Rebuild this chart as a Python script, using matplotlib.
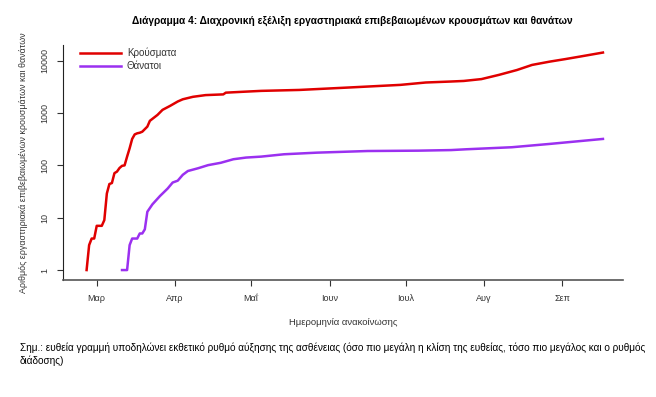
import numpy as np
import pandas as pd
import matplotlib
matplotlib.use("Agg")
import matplotlib.pyplot as plt

plt.rcParams['font.family'] = ['Liberation Sans', 'DejaVu Sans']

# cumulative confirmed cases
case_dates = ['2020-02-26', '2020-02-27', '2020-02-28', '2020-02-29', '2020-03-01',
              '2020-03-03', '2020-03-04', '2020-03-05', '2020-03-06', '2020-03-07',
              '2020-03-08', '2020-03-09', '2020-03-10', '2020-03-11', '2020-03-12',
              '2020-03-13', '2020-03-14', '2020-03-15', '2020-03-16', '2020-03-17',
              '2020-03-18', '2020-03-19', '2020-03-21', '2020-03-22', '2020-03-25',
              '2020-03-27', '2020-03-30', '2020-04-02', '2020-04-04', '2020-04-08',
              '2020-04-13', '2020-04-20', '2020-04-21', '2020-04-28', '2020-05-05',
              '2020-05-20', '2020-06-09', '2020-06-29', '2020-07-09', '2020-07-19',
              '2020-07-24', '2020-07-31', '2020-08-07', '2020-08-14', '2020-08-20',
              '2020-08-27', '2020-09-02', '2020-09-08', '2020-09-17']
cases = [1, 3, 4, 4, 7,
         7, 9, 29, 44, 46,
         71, 76, 89, 98, 100,
         147, 212, 320, 390, 410,
         420, 440, 550, 710, 920,
         1150, 1370, 1660, 1830, 2040,
         2200, 2270, 2450, 2550, 2650,
         2760, 3080, 3450, 3830, 4000,
         4100, 4450, 5370, 6630, 8300,
         9600, 10700, 12000, 14300]

# cumulative deaths
death_dates = ['2020-03-11', '2020-03-13', '2020-03-14', '2020-03-15', '2020-03-17',
               '2020-03-18', '2020-03-19', '2020-03-20', '2020-03-21', '2020-03-23',
               '2020-03-26', '2020-03-29', '2020-03-31', '2020-04-02', '2020-04-04',
               '2020-04-06', '2020-04-10', '2020-04-14', '2020-04-19', '2020-04-24',
               '2020-04-29', '2020-05-05', '2020-05-14', '2020-05-27', '2020-06-16',
               '2020-07-06', '2020-07-19', '2020-07-25', '2020-08-12', '2020-08-27',
               '2020-09-17']
deaths = [1, 1, 3, 4, 4,
          5, 5, 6, 13, 18,
          26, 36, 47, 51, 66,
          78, 88, 101, 112, 131,
          141, 147, 163, 175, 188,
          191, 196, 203, 222, 257,
          320]

month_ticks = ['2020-03-01', '2020-04-01', '2020-05-01', '2020-06-01',
               '2020-07-01', '2020-08-01', '2020-09-01']
month_labels = ['Μαρ', 'Απρ', 'Μαΐ', 'Ιουν', 'Ιουλ', 'Αυγ', 'Σεπ']
y_ticks = [1, 10, 100, 1000, 10000]

fig = plt.figure(figsize=(6.56, 3.97), dpi=100)
ax = fig.add_axes([0.096, 0.2947, 0.854, 0.592])

ax.plot(pd.to_datetime(case_dates), cases, color='#e00000', lw=1.8, label='Κρούσματα')
ax.plot(pd.to_datetime(death_dates), deaths, color='#9b30f0', lw=1.8, label='Θάνατοι')

ax.set_yscale('log')
ax.set_ylim(10 ** -0.19, 10 ** 4.30)
ax.set_xlim(pd.Timestamp('2020-02-16 16:00'), pd.Timestamp('2020-09-25'))

ax.set_yticks(y_ticks)
ax.set_yticklabels([str(v) for v in y_ticks], rotation=90, va='center', fontsize=6.5, color='#333333')
ax.yaxis.set_minor_locator(matplotlib.ticker.NullLocator())
ax.set_xticks(pd.to_datetime(month_ticks))
ax.set_xticklabels(month_labels, fontsize=6.5, color='#333333')
ax.tick_params(axis='both', length=4, width=0.8, color='#333333', pad=6)

for s in ['top', 'right']:
    ax.spines[s].set_visible(False)
ax.spines['left'].set_color('#222222')
ax.spines['bottom'].set_color('#555555')
ax.spines['bottom'].set_linewidth(1.2)

ax.set_xlabel('Ημερομηνία ανακοίνωσης', fontsize=6.8, color='#333333', labelpad=11)
ax.set_ylabel('Αριθμός εργαστηριακά επιβεβαιωμένων κρουσμάτων και θανάτων',
              fontsize=6.4, color='#333333', labelpad=9)

leg = ax.legend(loc='upper left', bbox_to_anchor=(0.015, 1.025), frameon=False,
                fontsize=7, handlelength=4.2, handletextpad=0.6, labelspacing=0.3,
                labelcolor='#333333')

fig.text(0.537, 0.948, 'Διάγραμμα 4: Διαχρονική εξέλιξη εργαστηριακά επιβεβαιωμένων κρουσμάτων και θανάτων',
         ha='center', va='center', fontsize=7.3, fontweight='bold')

fig.text(0.03, 0.108, 'Σημ.: ευθεία γραμμή υποδηλώνει εκθετικό ρυθμό αύξησης της ασθένειας '
         '(όσο πιο μεγάλη η κλίση της ευθείας, τόσο πιο μεγάλος και ο ρυθμός\nδιάδοσης)',
         ha='left', va='center', fontsize=7.2, linespacing=1.35)

fig.savefig('out.png', dpi=100)
